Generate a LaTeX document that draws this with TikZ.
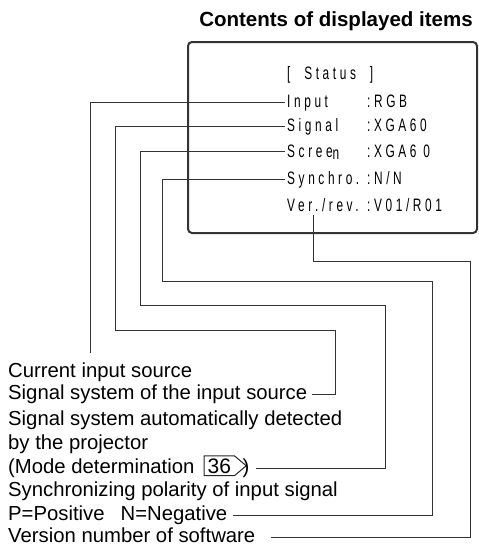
\documentclass[tikz,border=0pt]{standalone}
\usepackage{fontspec}
\setmainfont{Liberation Sans}
\newfontfamily\lcdfont[FakeStretch=0.66,LetterSpace=20]{Liberation Sans}
\usetikzlibrary{positioning,shapes.symbols}

\begin{document}
\begin{tikzpicture}[x=1pt,y=-1pt]
\tikzstyle{every node}+=[inner sep=0pt]
\tikzstyle{lcd}=[anchor=base west,inner xsep=2pt,font=\lcdfont\fontsize{18}{18}\selectfont]
\tikzstyle{note}=[anchor=base west,inner xsep=5pt,text height=14pt,text depth=4pt,font=\fontsize{20.3}{20.3}\selectfont]
\tikzstyle{pageref}=[draw=black!85,line width=1pt,signal,signal to=east,signal pointer angle=80,inner xsep=3.5pt,inner ysep=2.5pt,font=\fontsize{21}{21}\selectfont]
\tikzstyle{wire}=[draw=black!80,line width=0.9pt]
\useasboundingbox (0,0) rectangle (479,546);
\node [anchor=base,font=\bfseries\fontsize{20.5}{20.5}\selectfont] (title) at (336,27) {Contents of displayed items};
\draw [black!80,line width=2pt,rounded corners=4pt] (188,42) rectangle (477,233);
\node [lcd] (status) at (285,79) {[\ \ Status\ \ ]};
\node [lcd] (input) at (285,107) {Input};
\node [lcd] (signal) at (285,131) {Signal};
\node [lcd] (screen) at (285,157) {Scree\raisebox{-2pt}{n}};
\node [lcd] (synchro) at (285,184) {Synchro.};
\node [lcd] (ver) at (285,211) {Ver./rev.};
\node [lcd] (vinput) at (365,107) {:RGB};
\node [lcd] (vsignal) at (365,131) {:XGA60};
\node [lcd] (vscreen) at (365,157) {:XGA6 0};
\node [lcd] (vsynchro) at (365,184) {:N/N};
\node [lcd] (vver) at (365,211) {:V01/R01};
\node [note] (cur) at (3,377) {Current input source};
\node [note] (sigsys) at (3,399) {Signal system of the input source};
\node [note] (auto) at (3,425) {Signal system automatically detected};
\node [note] (proj) at (3,449) {by the projector};
\node [note] (mode) at (3,473) {(Mode determination};
\node [pageref,right=4pt of mode.base east,anchor=base west] (pg) {36};
\node [note,anchor=base west,inner xsep=2pt] (paren) at ([xshift=2pt]pg.base east) {)};
\node [note] (sync) at (3,496) {Synchronizing polarity of input signal};
\node [note] (pn) at (3,520) {P=Positive\hspace{16pt}N=Negative};
\node [note] (version) at (3,542) {Version number of software};
\coordinate (curtop) at (90,353);
\draw [wire] (input.west) -| (curtop);
\draw [wire] (signal.west) -| (115,330) -- (335,330) |- (sigsys.east);
\draw [wire] (screen.west) -| (140,305) -- (385,305) |- ([xshift=4pt]paren.east);
\draw [wire] (synchro.west) -| (162,281) -- (432,281) |- (pn.east);
\draw [wire] ([xshift=28pt,yshift=-4pt]ver.base west) |- (470,261) |- ([xshift=10pt]version.east);
\end{tikzpicture}
\end{document}
